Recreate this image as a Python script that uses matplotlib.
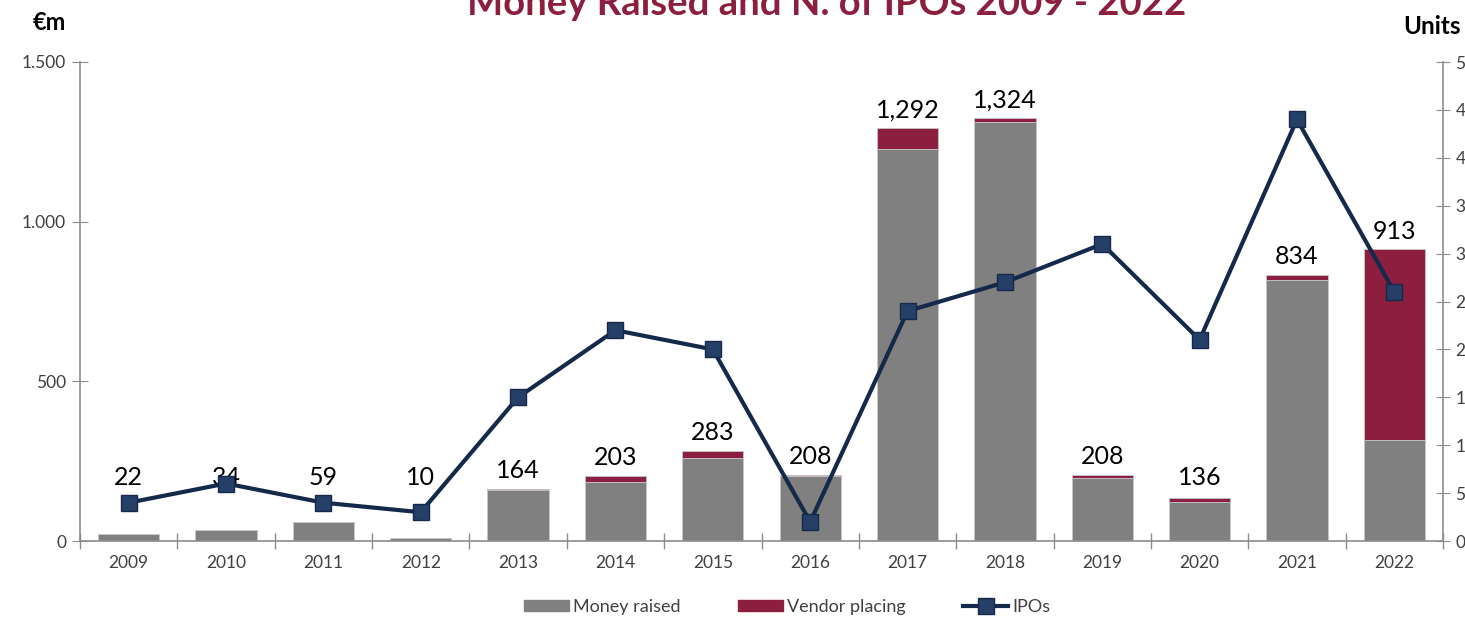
import matplotlib
matplotlib.use("Agg")
import matplotlib.pyplot as plt
from matplotlib.lines import Line2D
from matplotlib.patches import Patch
from matplotlib.ticker import FuncFormatter
import numpy as np

plt.rcParams['font.family'] = ['Lato', 'DejaVu Sans']

years = ["2009", "2010", "2011", "2012", "2013", "2014", "2015", "2016",
         "2017", "2018", "2019", "2020", "2021", "2022"]
money_raised = [22, 34, 59, 10, 160, 185, 259, 204, 1227, 1312, 197, 123, 818, 315]
vendor_placing = [0, 0, 0, 0, 4, 18, 24, 4, 65, 12, 11, 13, 16, 598]
totals = [22, 34, 59, 10, 164, 203, 283, 208, 1292, 1324, 208, 136, 834, 913]
total_labels = ["22", "34", "59", "10", "164", "203", "283", "208", "1,292",
                "1,324", "208", "136", "834", "913"]
ipos = [4, 6, 4, 3, 15, 22, 20, 2, 24, 27, 31, 21, 44, 26]

GREY = "#808080"
RED = "#8C1F3F"
NAVY = "#15294A"
MARKER = "#263F66"
SPINE = "#8C8C8C"

fig = plt.figure(figsize=(14.65, 6.17), dpi=100)
ax = fig.add_axes([80 / 1465, 76 / 617, (1443 - 80) / 1465, (541 - 62) / 617])
ax2 = ax.twinx()

x = np.arange(len(years))
w = 0.63
ax.bar(x, money_raised, width=w, color=GREY, edgecolor="#C8C8C8", linewidth=0.6, zorder=2)
ax.bar(x, vendor_placing, width=w, bottom=money_raised, color=RED,
       edgecolor="#C8C8C8", linewidth=0.6, zorder=2)

for xi, t, lab in zip(x, totals, total_labels):
    ax.annotate(lab, (xi, max(t, 140)), xytext=(0, 5), textcoords="offset points",
                ha="center", va="bottom", fontsize=18, color="black", zorder=5)

ax2.plot(x, ipos, color=NAVY, linewidth=3, marker="s", markersize=11,
         markerfacecolor=MARKER, markeredgecolor=NAVY, markeredgewidth=1, zorder=4)

ax.set_xlim(-0.5, len(years) - 0.5)
ax.set_ylim(0, 1500)
ax.set_yticks([0, 500, 1000, 1500])
ax.yaxis.set_major_formatter(FuncFormatter(lambda v, p: f"{int(v):,}".replace(",", ".")))
ax2.set_ylim(0, 50)
ax2.set_yticks(np.arange(0, 51, 5))

ax.set_xticks(x)
ax.set_xticklabels(years)
ax.set_xticks(np.arange(-0.5, len(years), 1), minor=True)
ax.tick_params(axis="x", which="major", length=0, labelsize=12.5, colors="#404040", pad=10)
ax.tick_params(axis="x", which="minor", length=12, direction="inout", color=SPINE, width=1)
ax.tick_params(axis="y", length=12, direction="inout", color=SPINE, labelsize=12.5,
               labelcolor="#404040", pad=4)
ax2.tick_params(axis="y", length=10, direction="inout", color=SPINE, labelsize=12.5,
                labelcolor="#404040", pad=4)

for a in (ax, ax2):
    a.spines["top"].set_visible(False)
    for s in ["left", "right", "bottom"]:
        a.spines[s].set_color(SPINE)
        a.spines[s].set_linewidth(1.2)
ax.spines["right"].set_visible(False)
ax2.spines["left"].set_visible(False)
ax2.spines["bottom"].set_visible(False)
ax.set_zorder(ax2.get_zorder() - 1)
ax.patch.set_visible(True)
ax2.patch.set_visible(False)

fig.text(827 / 1465, 1 - 15 / 617, "Money Raised and N. of IPOs 2009 - 2022",
         ha="center", va="baseline", fontsize=27.5, fontweight="bold", color=RED)
fig.text(49 / 1465, 1 - 22 / 617, "€m", ha="center", va="center", fontsize=17,
         fontweight="bold", color="black")
fig.text(1432 / 1465, 1 - 27 / 617, "Units", ha="center", va="center", fontsize=17.5,
         fontweight="bold", color="black")

handles = [Patch(facecolor=GREY, edgecolor=GREY),
           Patch(facecolor=RED, edgecolor=RED),
           Line2D([], [], color=NAVY, linewidth=3, marker="s", markersize=11,
                  markerfacecolor=MARKER, markeredgecolor=NAVY)]
fig.legend(handles, ["Money raised", "Vendor placing", "IPOs"], loc="center",
           bbox_to_anchor=(787 / 1465, 10 / 617), ncol=3, frameon=False, fontsize=13,
           handlelength=2.5, handleheight=0.6, handletextpad=0.2, columnspacing=3.2,
           labelcolor="#404040")

fig.savefig("out.png", dpi=100)
